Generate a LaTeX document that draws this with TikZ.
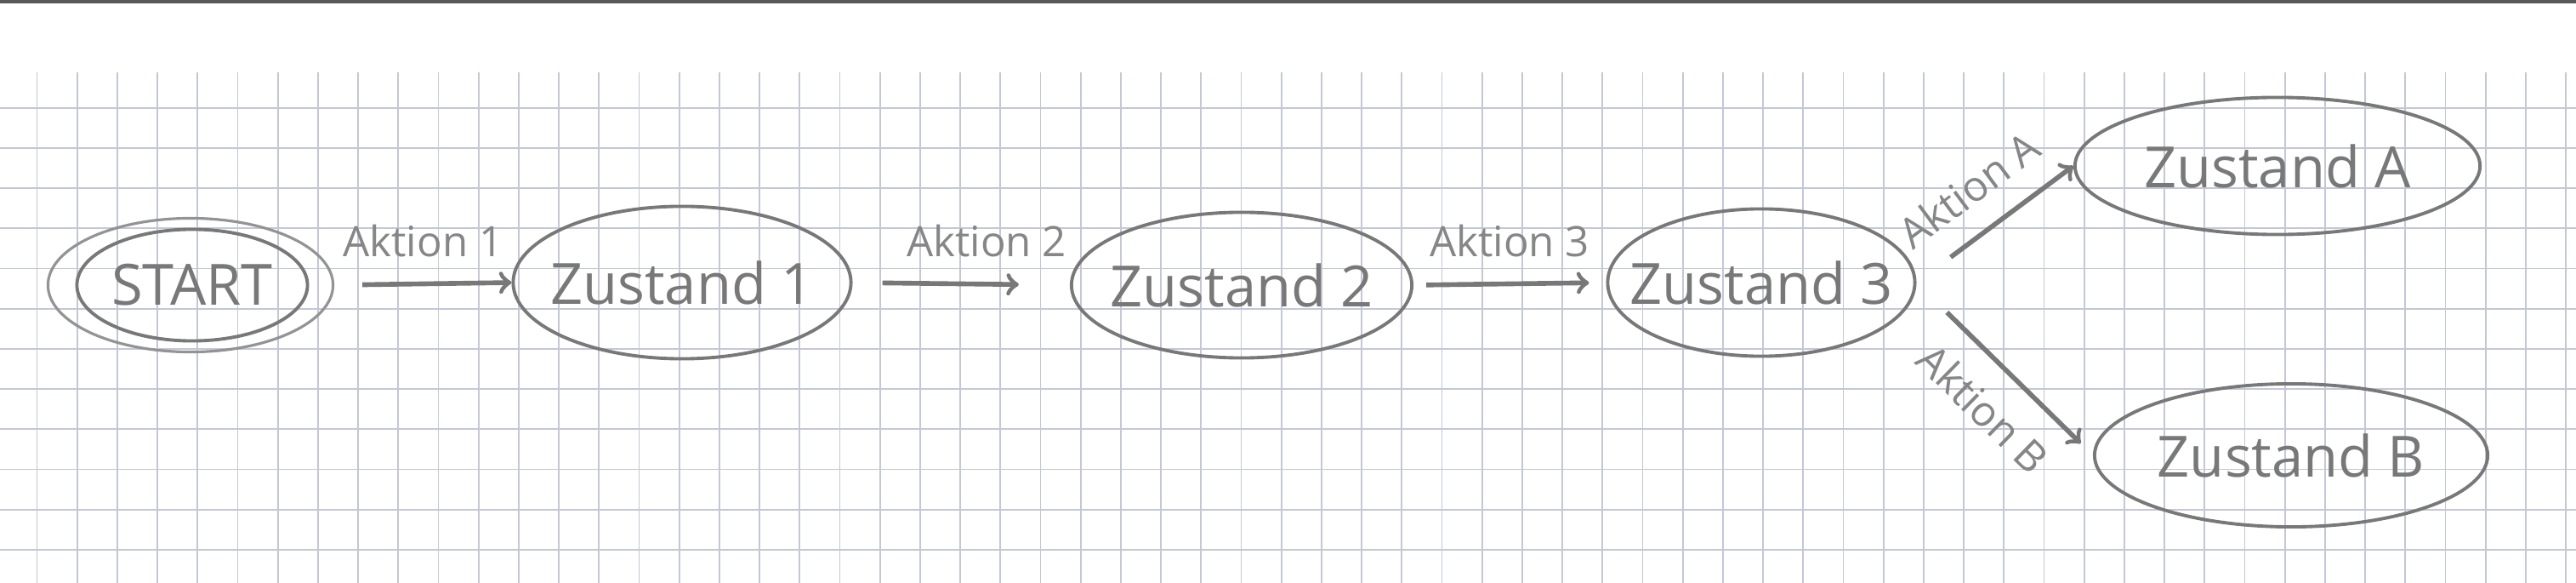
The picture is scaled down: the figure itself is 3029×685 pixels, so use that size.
\documentclass[tikz,border=0pt]{standalone}
\usepackage{fontspec}
\setmainfont{Open Sans}
\usepackage{tikz}
\usetikzlibrary{positioning,shapes,calc}

\definecolor{pencilgray}{RGB}{120,120,120}
\definecolor{gridline}{RGB}{196,199,214}

\tikzset{
  state/.style={ellipse, draw=pencilgray, line width=1.1pt, text=pencilgray,
    font=\fontsize{19}{22}\selectfont, inner xsep=-0.35cm, inner ysep=0pt},
  ring/.style={ellipse, draw=pencilgray!80, line width=0.9pt},
  action/.style={text=pencilgray!90, font=\fontsize{14}{16}\selectfont, inner sep=2pt},
  trans/.style={draw=pencilgray, line width=1.6pt, ->}
}

\begin{document}
\begin{tikzpicture}[x=0.01cm, y=-0.01cm]
    % Papier
    \useasboundingbox (0,0) rectangle (3029,685);
    \fill[white] (0,0) rectangle (3029,685);
    \fill[black!65] (0,0) rectangle (3029,4);
    \foreach \k in {0,...,63}
        \draw[gridline, line width=0.5pt] (43.5+47.2*\k,85) -- (43.5+47.2*\k,685);
    \foreach \k in {0,...,11}
        \draw[gridline, line width=0.5pt] (0,126.7+47.2*\k) -- (3029,126.7+47.2*\k);

    % Zustaende
    \node[state, minimum width=2.71cm, minimum height=1.31cm] (start) at (226,335) {START};
    \node[ring, minimum width=3.35cm, minimum height=1.57cm] (startring) at (224,335) {};
    \node[state, minimum width=3.97cm, minimum height=1.79cm] (z1) at (802,332) {Zustand 1};
    \node[state, minimum width=4.0cm, minimum height=1.71cm] (z2) at (1460,335) {Zustand 2};
    \node[state, minimum width=3.61cm, minimum height=1.73cm] (z3) at (2071,332) {Zustand 3};
    \node[state, minimum width=4.76cm, minimum height=1.61cm] (zA) at (2678,195) {Zustand A};
    \node[state, minimum width=4.62cm, minimum height=1.68cm] (zB) at (2694,535) {Zustand B};

    % Aktionen
    \draw[trans, shorten <=0.33cm] (startring.east) -- (z1.west)
        node[action, midway, above=0.22cm] (a1) {Aktion 1};
    \draw[trans, shorten <=0.35cm, shorten >=0.6cm] (z1.east) -- (z2.west)
        node[action, midway, above=0.22cm, xshift=0.3cm] (a2) {Aktion 2};
    \draw[trans, shorten <=0.15cm, shorten >=0.2cm] (z2.east) -- (z3.west)
        node[action, midway, above=0.22cm] (a3) {Aktion 3};
    \draw[trans, shorten <=0.5cm] (z3.east) -- (zA.west)
        node[action, pos=0.5, above=0.22cm, sloped] (aA) {Aktion A};
    \draw[trans, shorten <=0.5cm, shorten >=0.2cm] (z3.east) -- (zB.west)
        node[action, pos=0.55, below=0.22cm, sloped] (aB) {Aktion B};
\end{tikzpicture}
\end{document}
